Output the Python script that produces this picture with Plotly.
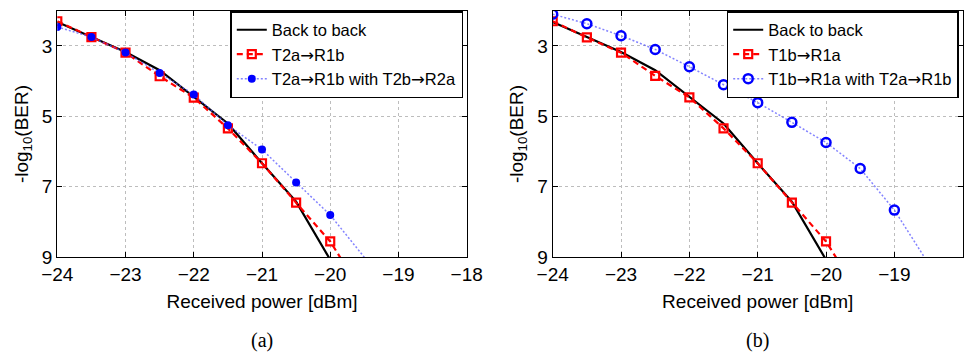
import plotly.graph_objects as go

# ---- data ----
power = [-24, -23.5, -23, -22.5, -22, -21.5, -21, -20.5, -20]
b2b = [2.32, 2.75, 3.17, 3.69, 4.44, 5.20, 6.33, 7.42, 9.07]

power_red = [-24, -23.5, -23, -22.5, -22, -21.5, -21, -20.5, -20, -19.5]
red_a = [2.30, 2.75, 3.19, 3.86, 4.47, 5.34, 6.33, 7.45, 8.55, 10.1]
red_b = [2.30, 2.76, 3.19, 3.85, 4.46, 5.34, 6.33, 7.45, 8.55, 10.1]

power_blue_a = [-24, -23.5, -23, -22.5, -22, -21.5, -21, -20.5, -20, -19]
blue_a = [2.46, 2.75, 3.19, 3.77, 4.38, 5.25, 5.94, 6.88, 7.80, 10.2]

power_blue_b = [-24, -23.5, -23, -22.5, -22, -21.5, -21, -20.5, -20, -19.5, -19, -18.5]
blue_b = [2.10, 2.37, 2.71, 3.10, 3.59, 4.10, 4.61, 5.17, 5.74, 6.48, 7.66, 9.18]

ARROW = '<span style="font-family:DejaVu Sans">\u2192</span>'
names_a = ["Back to back", "T2a" + ARROW + "R1b", "T2a" + ARROW + "R1b with T2b" + ARROW + "R2a"]
names_b = ["Back to back", "T1b" + ARROW + "R1a", "T1b" + ARROW + "R1a with T2a" + ARROW + "R1b"]
captions = ["(a)", "(b)"]

x_ticks = [-24, -23, -22, -21, -20, -19, -18]
y_ticks = [3, 5, 7, 9]

SANS = "Liberation Sans, Arial, sans-serif"
SERIF = "Liberation Serif, Times New Roman, serif"

fig = go.Figure()

panels = [
    dict(xa="x", ya="y", leg="legend", names=names_a, bx=power_blue_a, by=blue_a,
         red=red_a, sym="circle", msize=8, mline=0),
    dict(xa="x2", ya="y2", leg="legend2", names=names_b, bx=power_blue_b, by=blue_b,
         red=red_b, sym="circle-open", msize=9, mline=2.5),
]

for p in panels:
    fig.add_trace(go.Scatter(
        x=power, y=b2b, mode="lines", name=p["names"][0],
        line=dict(color="black", width=2.2),
        xaxis=p["xa"], yaxis=p["ya"], legend=p["leg"]))
    fig.add_trace(go.Scatter(
        x=power_red, y=p["red"], mode="lines+markers", name=p["names"][1],
        line=dict(color="red", width=2.2, dash="6px,4px"),
        marker=dict(symbol="square-open", size=8, color="red", line=dict(width=2.2, color="red")),
        xaxis=p["xa"], yaxis=p["ya"], legend=p["leg"]))
    fig.add_trace(go.Scatter(
        x=p["bx"], y=p["by"], mode="lines+markers", name=p["names"][2],
        line=dict(color="rgba(90,90,255,0.75)", width=1.5, dash="2px,2px"),
        marker=dict(symbol=p["sym"], size=p["msize"], color="blue",
                    line=dict(width=p["mline"], color="blue")),
        xaxis=p["xa"], yaxis=p["ya"], legend=p["leg"]))

W, H = 972, 352
def px_x(v):
    return v / W
def px_y(v):
    return 1 - v / H

axis_common = dict(
    showline=True, linecolor="black", linewidth=1.3, mirror="allticks",
    ticks="inside", ticklen=5, tickcolor="black", tickwidth=1,
    showgrid=True, gridcolor="#bdbdbd", griddash="dot", gridwidth=1,
    zeroline=False, tickfont=dict(family=SANS, size=19, color="black"),
    automargin=False,
)

ydom = [px_y(257.3), px_y(10.7)]
xdoms = [[px_x(57.3), px_x(466.7)], [px_x(552.7), px_x(962.7)]]

layout = dict(
    width=W, height=H, margin=dict(l=0, r=0, t=0, b=0, autoexpand=False),
    paper_bgcolor="white", plot_bgcolor="white",
    font=dict(family=SANS, color="black"),
)
for i, suffix in enumerate(["", "2"]):
    layout["xaxis" + suffix] = dict(
        axis_common, domain=xdoms[i], range=[-24, -18], tickvals=x_ticks,
        anchor="y" + suffix,
        title=dict(text="Received power [dBm]", font=dict(family=SANS, size=19), standoff=10),
    )
    layout["yaxis" + suffix] = dict(
        axis_common, domain=ydom, range=[9, 2], tickvals=y_ticks,
        anchor="x" + suffix,
        title=dict(text="-log<sub>10</sub>(BER)", font=dict(family=SANS, size=19), standoff=8),
    )
fig.update_layout(**layout)

leg_common = dict(
    bgcolor="white", bordercolor="black", borderwidth=1.5,
    font=dict(family=SANS, size=16.5, color="black"),
    xanchor="right", yanchor="top", tracegroupgap=0, itemwidth=30,
)
fig.update_layout(
    legend=dict(leg_common, x=px_x(463.3), y=px_y(11)),
    legend2=dict(leg_common, x=px_x(958.7), y=px_y(11)),
)

for i, cap in enumerate(captions):
    fig.add_annotation(
        text=cap, xref="paper", yref="paper",
        x=(xdoms[i][0] + xdoms[i][1]) / 2, y=px_y(340),
        xanchor="center", yanchor="middle", showarrow=False,
        font=dict(family=SERIF, size=20, color="black"))

fig.write_html("out.html", config={"displayModeBar": False},
               post_script="document.body.style.margin='0';document.body.style.overflow='hidden';")
